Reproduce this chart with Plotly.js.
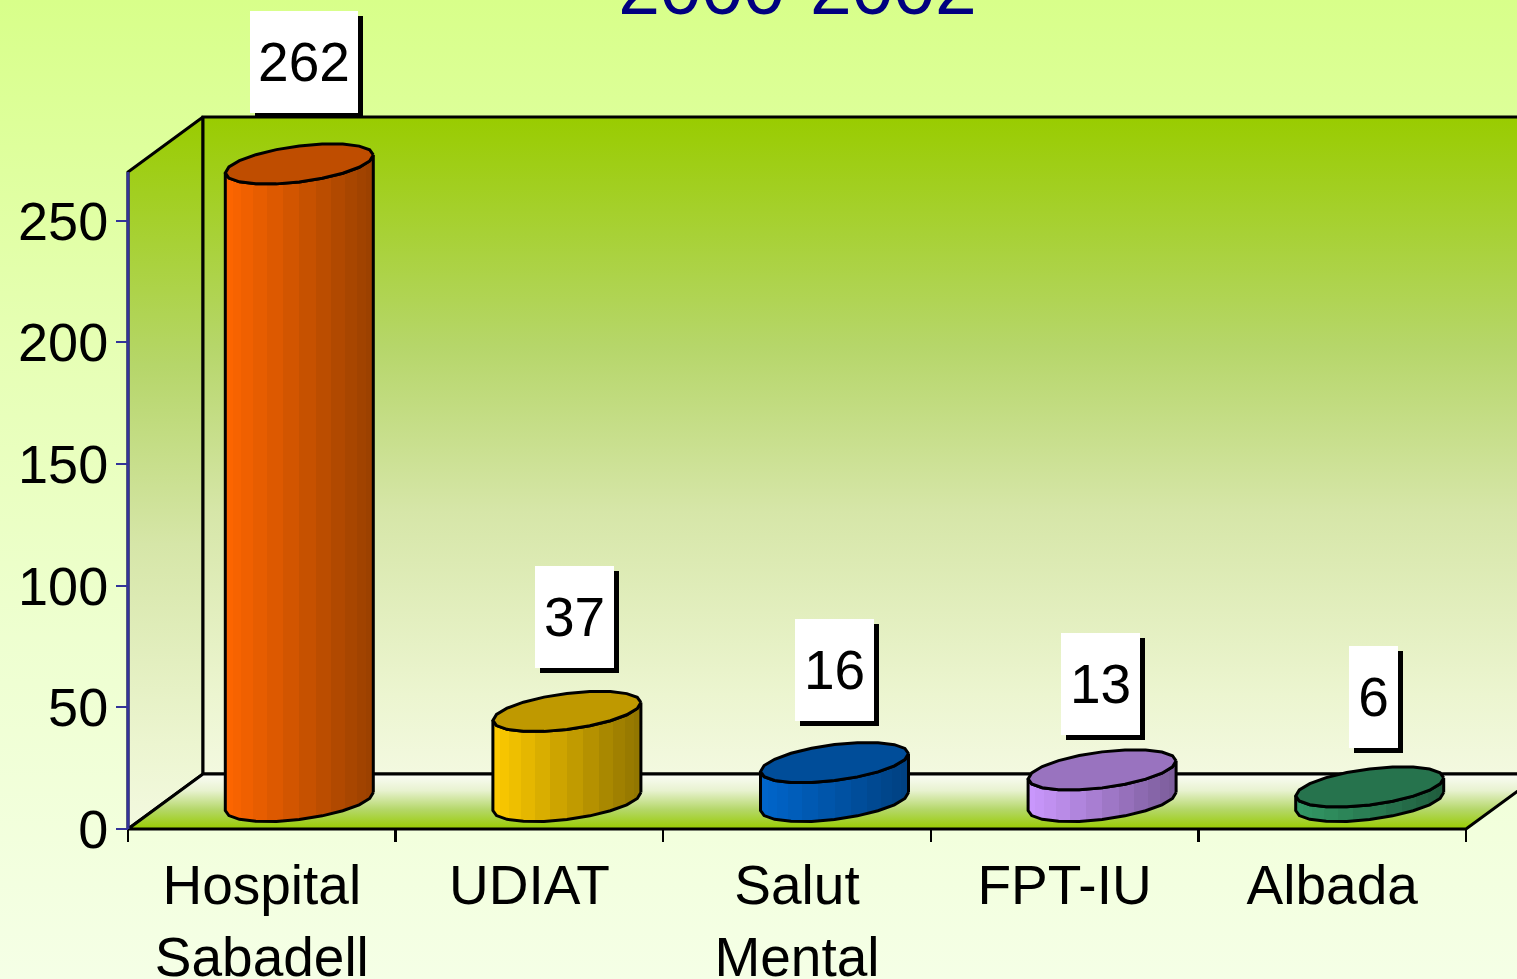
<!DOCTYPE html>
<html><head><meta charset="utf-8">
<script src="https://cdn.plot.ly/plotly-3.0.1.min.js"></script>
<style>
html,body{margin:0;padding:0;width:1517px;height:979px;overflow:hidden;
background:linear-gradient(180deg,#d8ff8a 0%,#e6ffb4 35%,#eeffd0 65%,#f5ffe6 100%);}
#c{width:1517px;height:979px}
</style></head><body><div id="c"></div>
<script>
const categories=['Hospital<br>Sabadell','UDIAT','Salut<br>Mental','FPT-IU','Albada'];
const values=[262,37,16,13,6];
const bodyLight=['#ff6600','#ffcc00','#0066cc','#cc99ff','#339966'];
const bodyDark=['#994000','#8f7300','#004080','#7a5c99','#1f5c3d'];
const topColors=['#bf4d00','#bf9900','#004d99','#9973bf','#26734d'];
const labelTexts=['262','37','16','13','6'];
const labelWidths=[108,79,79,79,49];
const labelDx=[5,8,0,-2,4];
const labelLift=[102,94,93,86,90];
const yTicks=[0,50,100,150,200,250];

const W=1517,H=979,L=128,B=150,pad=6;
const wallTop=270;
const pxY=657/wallTop, pxX=1338/5;
const yMin=-pad/pxY, yMax=(H-B)/pxY, xMin=-0.5-pad/pxX, xMax=-0.5+(W-L)/pxX;
const posX=pad/(W-L+pad), posY=pad/(H-B+pad);
const depthX=75/pxX, depthY=55/pxY;
const rA=74/pxX, rB=18/pxY, rS=9/pxY, facets=20;

function rgb(h){return [1,3,5].map(i=>parseInt(h.substr(i,2),16));}
function stepped(a,b,n){
  const A=rgb(a),B_=rgb(b),out=[];
  for(let k=0;k<n;k++){
    const f0=(1-Math.cos(Math.PI*k/n))/2,f1=(1-Math.cos(Math.PI*(k+1)/n))/2,m=(f0+f1)/2;
    const c='rgb('+A.map((v,i)=>Math.round(v+(B_[i]-v)*m)).join(',')+')';
    out.push([f0,c],[f1,c]);
  }
  return out;
}
function poly(x,y,fillgradient,fillcolor,lw){
  const t={type:'scatter',mode:'lines',x:x,y:y,xaxis:'x2',yaxis:'y',fill:'toself',
    line:{color:'#000',width:lw},cliponaxis:false,hoverinfo:'skip',showlegend:false};
  if(fillgradient)t.fillgradient=fillgradient; else t.fillcolor=fillcolor;
  return t;
}
const wallScale=[[0,'#f3f9e0'],[0.12,'#ecf5d0'],[0.4,'#d6e6a8'],[0.65,'#b6d66a'],[1,'#99cc00']];
const x0=-0.5,x1=4.5;
const traces=[];
traces.push({type:'scatter',mode:'markers',x:categories,y:values,xaxis:'x',yaxis:'y',marker:{opacity:0},hoverinfo:'skip',showlegend:false});
traces.push(poly([x0,x0+depthX,x0+depthX,x0,x0],[0,depthY,wallTop+depthY,wallTop,0],{type:'vertical',colorscale:wallScale},null,3));
traces.push(poly([x0+depthX,x1+depthX,x1+depthX,x0+depthX,x0+depthX],[depthY,depthY,wallTop+depthY,wallTop+depthY,depthY],{type:'vertical',colorscale:wallScale},null,3));
traces.push(poly([x0,x1,x1+depthX,x0+depthX,x0],[0,0,depthY,depthY,0],{type:'vertical',colorscale:[[0,'#99cc00'],[0.35,'#b4d768'],[0.7,'#e8f2d0'],[1,'#fbfdf6']]},null,3));
values.forEach((v,i)=>{
  const cx=i+depthX/2, base=depthY/2, top=v+depthY/2;
  const px=[],py=[],tx=[],ty=[];
  for(let k=0;k<=facets/2;k++){
    const t=-Math.PI*2*k/facets;
    px.push(cx+rA*Math.cos(t)); py.push(base+rB*Math.sin(t)+rS*Math.cos(t));
  }
  for(let k=facets/2;k>=0;k--){
    const t=-Math.PI*2*k/facets;
    px.push(cx+rA*Math.cos(t)); py.push(top+rB*Math.sin(t)+rS*Math.cos(t));
  }
  px.push(px[0]);py.push(py[0]);
  traces.push(poly(px,py,{type:'horizontal',colorscale:stepped(bodyLight[i],bodyDark[i],14)},null,3));
  for(let k=0;k<=facets;k++){
    const t=Math.PI*2*k/facets;
    tx.push(cx+rA*Math.cos(t)); ty.push(top+rB*Math.sin(t)+rS*Math.cos(t));
  }
  traces.push(poly(tx,ty,null,topColors[i],3));
});
traces.push({type:'scatter',mode:'lines',x:[x0,x0],y:[0,wallTop],xaxis:'x2',yaxis:'y',line:{color:'#333399',width:3},cliponaxis:false,hoverinfo:'skip',showlegend:false});
const anns=[];
values.forEach((v,i)=>{
  const cx=i+depthX/2, ay=v+depthY/2;
  const base={xref:'x2',yref:'y',x:cx,y:ay,showarrow:false,width:labelWidths[i],height:102,borderpad:0,borderwidth:0,
    xanchor:'center',yanchor:'middle',font:{family:'Liberation Sans, Arial, sans-serif',size:55,color:'#000'}};
  anns.push(Object.assign({},base,{text:'\u00a0',bgcolor:'#000',xshift:labelDx[i]+5,yshift:labelLift[i]-5}));
  anns.push(Object.assign({},base,{text:labelTexts[i],bgcolor:'#fff',xshift:labelDx[i],yshift:labelLift[i]}));
});
const layout={width:W,height:H,paper_bgcolor:'rgba(0,0,0,0)',plot_bgcolor:'rgba(0,0,0,0)',
  margin:{l:L-pad,r:0,t:0,b:B-pad,pad:0},showlegend:false,
  font:{family:'Liberation Sans, Arial, sans-serif',color:'#000'},
  title:{text:'2000-2002',x:797.5/W,xanchor:'center',yref:'container',y:1-14/H,yanchor:'bottom',
    font:{family:'Liberation Sans, Arial, sans-serif',size:75,color:'#000080'}},
  xaxis:{type:'category',categoryorder:'array',categoryarray:categories,range:[xMin,xMax],anchor:'free',position:posY,
    ticks:'outside',ticklen:8,tickwidth:1,tickcolor:'rgba(0,0,0,0)',tickangle:0,showgrid:false,zeroline:false,
    showline:false,tickfont:{size:55,color:'#000'},automargin:false},
  xaxis2:{type:'linear',overlaying:'x',side:'bottom',anchor:'free',position:posY,range:[xMin,xMax],fixedrange:true,
    tickmode:'array',tickvals:[-0.5,0.5,1.5,2.5,3.5,4.5],showticklabels:false,
    ticks:'outside',ticklen:12,tickwidth:2.5,tickcolor:'#000',showgrid:false,zeroline:false,showline:false},
  yaxis:{type:'linear',range:[yMin,yMax],anchor:'free',position:posX,tickmode:'array',tickvals:yTicks,ticktext:yTicks.map(String),
    ticks:'outside',ticklen:12,tickwidth:2,tickcolor:'#333399',showgrid:false,zeroline:false,
    showline:false,tickfont:{size:54,color:'#000'},ticklabelstandoff:-3,automargin:false},
  annotations:anns
};
Plotly.newPlot('c',traces,layout,{displayModeBar:false,staticPlot:true});
</script></body></html>
